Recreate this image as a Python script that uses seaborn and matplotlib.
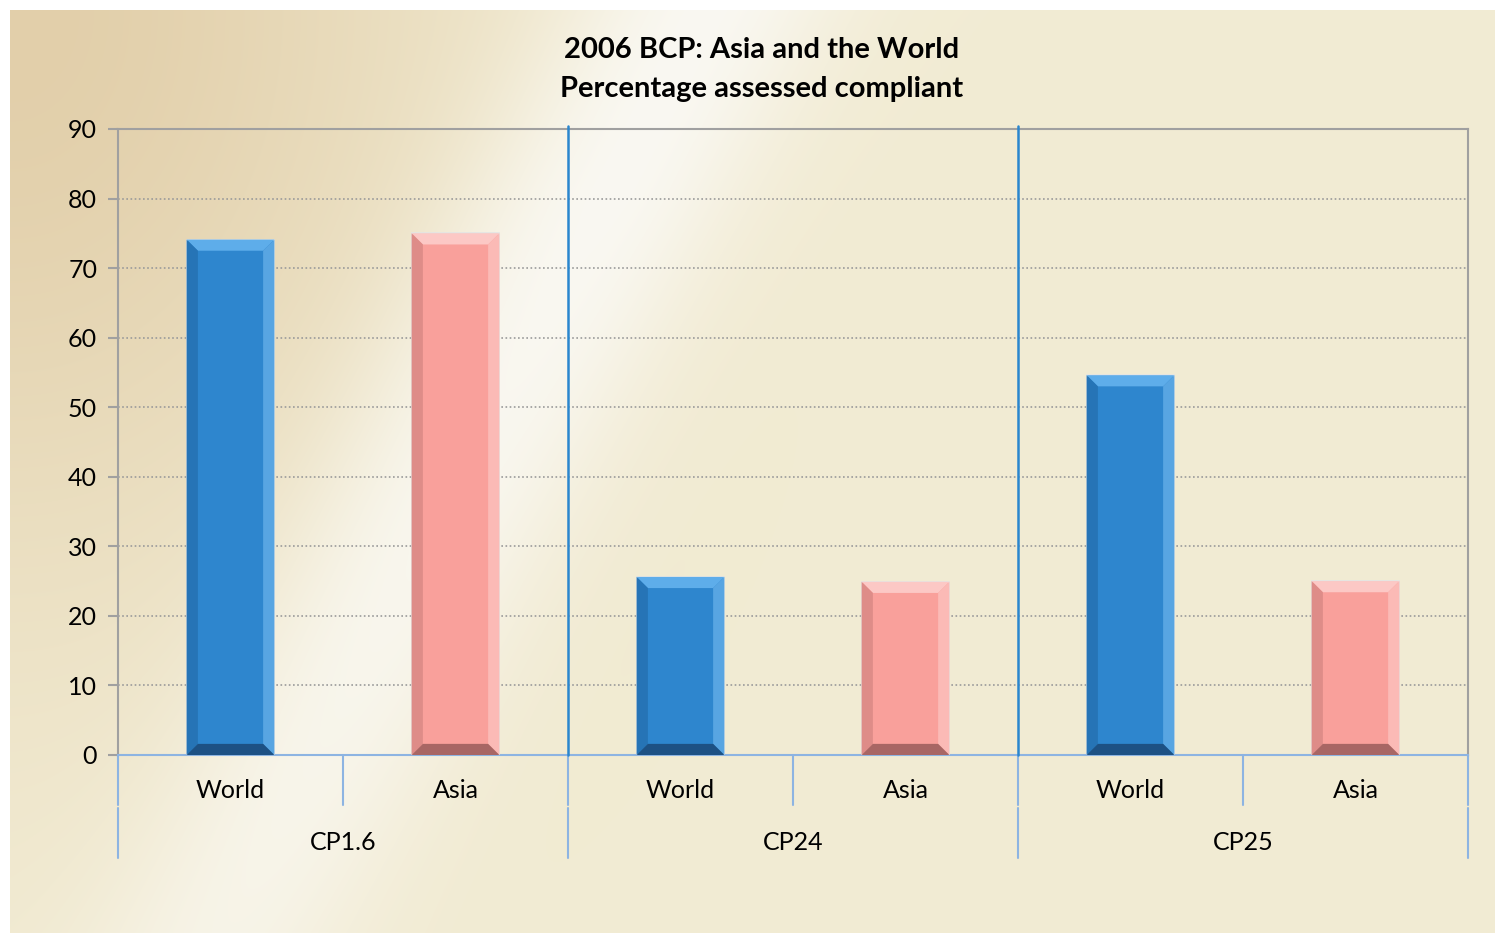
import numpy as np
import pandas as pd
import matplotlib
matplotlib.use("Agg")
import matplotlib.pyplot as plt
from matplotlib.patches import Polygon
import seaborn as sns

# data
groups = ["CP1.6", "CP24", "CP25"]
regions = ["World", "Asia"]
world_vals = [74.1, 25.6, 54.6]
asia_vals = [75.0, 24.9, 25.0]

rows = []
for g, w, a in zip(groups, world_vals, asia_vals):
    rows.append({"group": g, "region": "World", "value": w})
    rows.append({"group": g, "region": "Asia", "value": a})
df = pd.DataFrame(rows)
df["slot"] = df["group"] + " " + df["region"]

sns.set_theme(style="white")
plt.rcParams["font.family"] = ["Lato", "DejaVu Sans"]
plt.rcParams["text.color"] = "black"

W, H = 1495, 933
fig = plt.figure(figsize=(W / 100, H / 100), dpi=100)
fig.patch.set_facecolor("white")

# background gradient (beige with a white glow and tan corner)
bg = fig.add_axes([10 / W, 0, 1 - 10 / W, 1 - 10 / H])
yy, xx = np.mgrid[0:H, 0:W].astype(float)
base = np.array([242, 236, 212]) / 255
tan = np.array([226, 207, 170]) / 255
white = np.array([251, 250, 247]) / 255
# glow along a line from (220, 933) to (700, 0)
p0, p1 = np.array([220.0, 933.0]), np.array([700.0, 0.0])
d = p1 - p0
n = np.array([-d[1], d[0]]) / np.hypot(*d)
dist = (xx - p0[0]) * n[0] + (yy - p0[1]) * n[1]
glow = 0.85 * np.exp(-(dist / 120.0) ** 2) * np.clip(1.15 - yy / 1300, 0, 1) ** 0.5
corner = np.exp(-((xx / 450) ** 2 + (yy / 600) ** 2)) * np.clip(1 - glow * 1.5, 0, 1)
img = base[None, None, :] * (1 - corner[..., None]) + tan[None, None, :] * corner[..., None]
img = img * (1 - glow[..., None]) + white[None, None, :] * glow[..., None]
bg.imshow(np.clip(img, 0, 1), aspect="auto", extent=[0, 1, 0, 1], origin="upper")
bg.axis("off")

ax = fig.add_axes([118 / W, 1 - 755 / H, (1468 - 118) / W, (755 - 129) / H])
ax.patch.set_alpha(0)

blue, pink = "#2E86CE", "#F9A09B"
sns.barplot(data=df, x="slot", y="value", hue="region", dodge=False,
            palette={"World": blue, "Asia": pink}, width=0.39,
            legend=False, ax=ax, linewidth=1.2, edgecolor="#E4E4E4",
            saturation=1, zorder=3)

# top, left, right, bottom bevel colours
bevel = {
    "World": ["#5EADEA", "#2674B6", "#58A5E2", "#1D5184"],
    "Asia": ["#FCC8C5", "#DE8C88", "#FBBAB6", "#A86664"],
}
bars = sorted([p for p in ax.patches if p.get_height() > 0], key=lambda p: p.get_x())
for p, reg in zip(bars, df["region"]):
    x0, w, h = p.get_x(), p.get_width(), p.get_height()
    cols = bevel[reg]
    bx = 0.05
    by = 1.6
    x1 = x0 + w
    top = Polygon([[x0, h], [x1, h], [x1 - bx, h - by], [x0 + bx, h - by]], color=cols[0], zorder=4, lw=0)
    left = Polygon([[x0, h], [x0 + bx, h - by], [x0 + bx, by], [x0, 0]], color=cols[1], zorder=4, lw=0)
    right = Polygon([[x1, h], [x1 - bx, h - by], [x1 - bx, by], [x1, 0]], color=cols[2], zorder=4, lw=0)
    bot = Polygon([[x0, 0], [x1, 0], [x1 - bx, by], [x0 + bx, by]], color=cols[3], zorder=4, lw=0)
    for poly in (top, left, right, bot):
        ax.add_patch(poly)

ax.set_xlim(-0.5, 5.5)
ax.set_ylim(0, 90)
ax.set_yticks(range(0, 91, 10))
ax.yaxis.grid(True, linestyle=(0, (1, 1.5)), color="#9A9A9A", linewidth=1.2, zorder=1)
ax.set_xlabel("")
ax.set_ylabel("")

for s in ["left", "top", "right"]:
    ax.spines[s].set_color("#A0A0A0")
    ax.spines[s].set_linewidth(1.5)
ax.spines["bottom"].set_color("#8DB4E2")
ax.spines["bottom"].set_linewidth(1.5)

ax.tick_params(axis="y", left=True, length=7, width=1.5, color="#A0A0A0",
               labelsize=18, labelcolor="black", pad=8)
ax.set_xticks(range(6))
ax.set_xticklabels(regions * 3, fontsize=18)
ax.tick_params(axis="x", bottom=False, length=0, pad=17, labelcolor="black")

# group separators and category axis lines
for xb in [1.5, 3.5]:
    ax.plot([xb, xb], [0, 90.5], color="#2A86CE", linewidth=1.8, zorder=5, clip_on=False)
tr = ax.get_xaxis_transform()
for xb in [0.5, 2.5, 4.5]:
    ax.plot([xb, xb], [0, -0.08], color="#8DB4E2", linewidth=1.5, transform=tr, clip_on=False)
for xb in [-0.5, 1.5, 3.5, 5.5]:
    ax.plot([xb, xb], [0, -0.08], color="#8DB4E2", linewidth=1.5, transform=tr, clip_on=False)
    ax.plot([xb, xb], [-0.085, -0.165], color="#8DB4E2", linewidth=1.5, transform=tr, clip_on=False)
for i, g in enumerate(groups):
    ax.text(2 * i + 0.5, -0.139, g, transform=tr, ha="center", va="center", fontsize=18)

fig.text(762 / W, 1 - 50 / H, "2006 BCP: Asia and the World", ha="center", va="center",
         fontsize=21, fontweight="bold", color="black")
fig.text(762 / W, 1 - 89 / H, "Percentage assessed compliant", ha="center", va="center",
         fontsize=21, fontweight="bold", color="black")

fig.savefig("out.png", dpi=100)
